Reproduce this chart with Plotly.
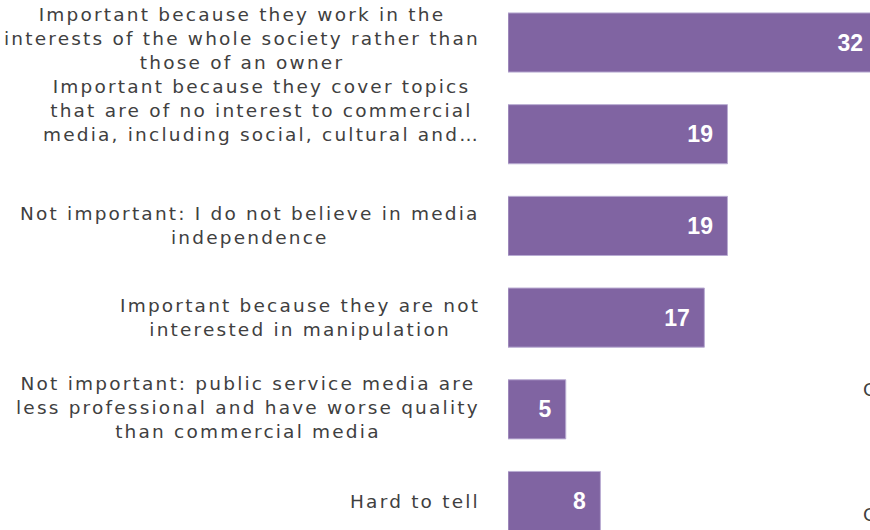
import plotly.graph_objects as go

# Survey answers, top to bottom, and their shares (%)
categories = [
    "Important because they work in the<br>interests of the whole society rather than<br>those of an owner",
    "Important because they cover topics<br>that are of no interest to commercial<br>media, including social, cultural and…",
    "Not important: I do not believe in media<br>independence",
    "Important because they are not<br>interested in manipulation",
    "Not important: public service media are<br>less professional and have worse quality<br>than commercial media",
    "Hard to tell",
]
values = [32, 19, 19, 17, 5, 8]

BAR_COLOR = "#8064A2"
TEXT_COLOR = "#404040"
LABEL_FONT = "DejaVu Sans"


def spaced(text, px=2.2):
    """Wrap every line of a label in a letter-spaced span."""
    return "<br>".join(
        f'<span style="letter-spacing:{px}px">{line}</span>' for line in text.split("<br>")
    )


fig = go.Figure(
    go.Bar(
        x=values,
        y=categories,
        orientation="h",
        width=0.645,
        marker=dict(color=BAR_COLOR, line=dict(color="#b9acd2", width=1)),
        texttemplate="%{x}\u2002",
        textposition="inside",
        insidetextanchor="end",
        textfont=dict(family="Liberation Sans", size=23, color="white", weight="bold"),
        cliponaxis=True,
        hoverinfo="skip",
    )
)

# Category labels: centred multi-line blocks, right edge next to the bars
label_lift = [4, 24, 0, 0, 2, 0]
for cat, lift in zip(categories, label_lift):
    fig.add_annotation(
        x=0, xref="paper", xanchor="right", xshift=-26,
        y=cat, yref="y", yanchor="middle", yshift=lift,
        text=spaced(cat), showarrow=False, align="center",
        font=dict(family=LABEL_FONT, size=18.5, color=TEXT_COLOR),
    )

# Partially visible side captions at the right edge
for ypix_frac in (0.265, 0.03):
    fig.add_annotation(
        x=1, xref="paper", xanchor="left", xshift=-9,
        y=ypix_frac, yref="paper", yanchor="middle",
        text="C", showarrow=False,
        font=dict(family=LABEL_FONT, size=18, color=TEXT_COLOR),
    )

fig.update_layout(
    width=870,
    height=530,
    margin=dict(l=508, r=0, t=0, b=0),
    paper_bgcolor="white",
    plot_bgcolor="white",
    showlegend=False,
    bargap=0.35,
    xaxis=dict(range=[0, 31.34], visible=False, fixedrange=True),
    yaxis=dict(
        categoryorder="array",
        categoryarray=categories,
        range=[5.316, -0.4635],
        showticklabels=False,
        showgrid=False,
        zeroline=False,
        showline=False,
        ticks="",
        fixedrange=True,
    ),
)

fig.write_html("out.html")
